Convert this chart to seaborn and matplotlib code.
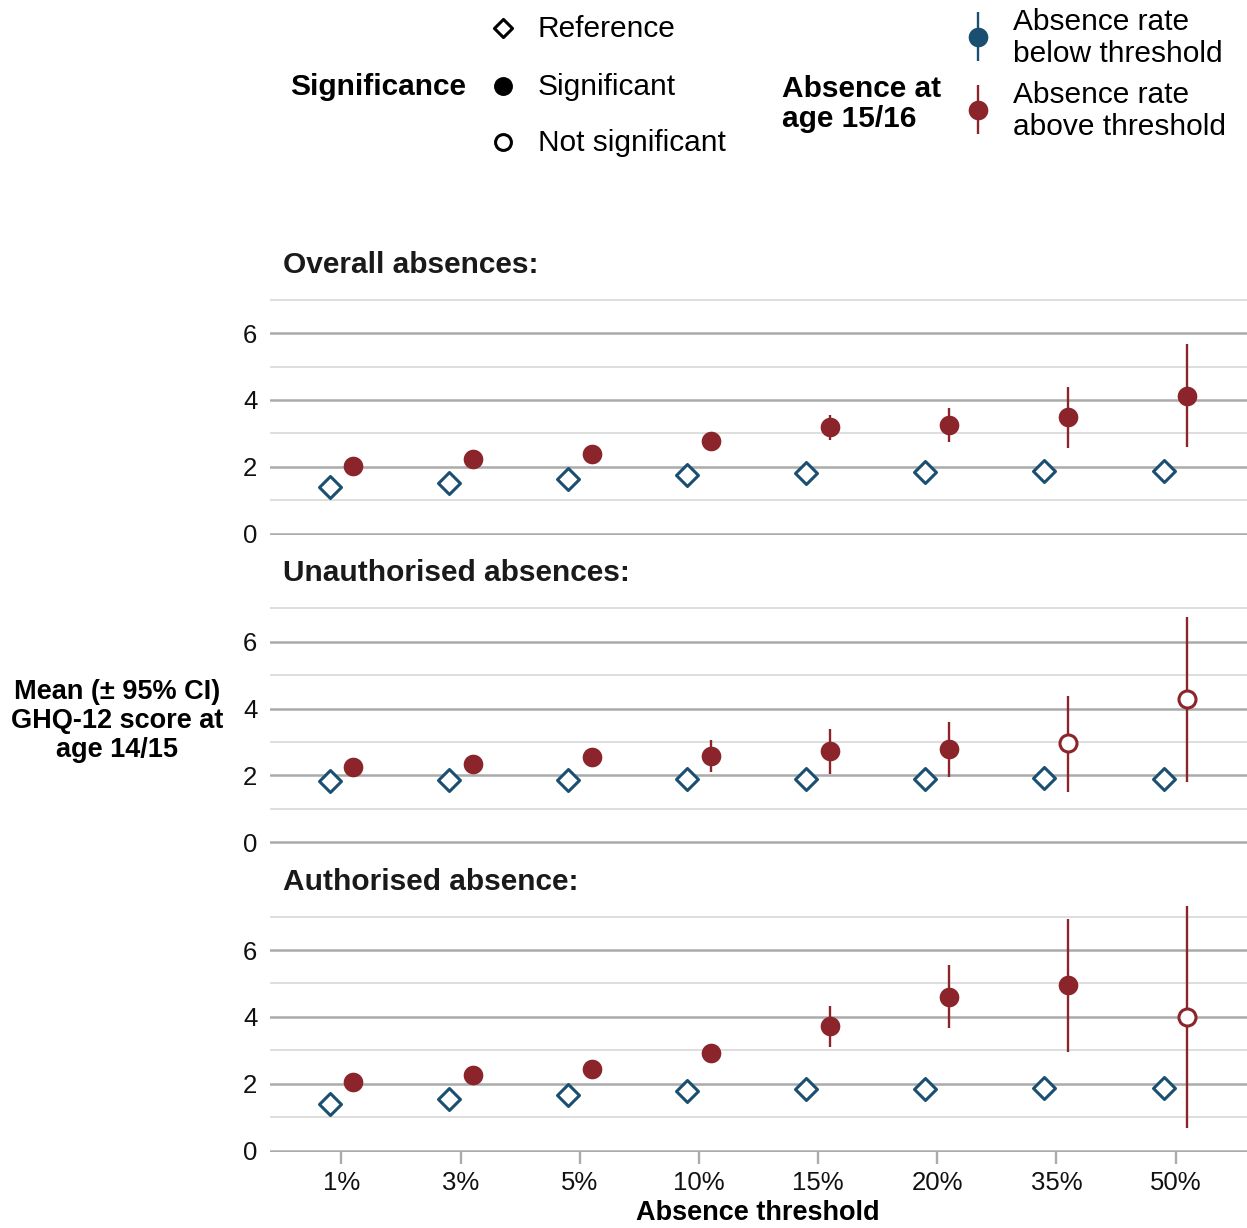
import numpy as np
import pandas as pd
import matplotlib
matplotlib.use("Agg")
import matplotlib.pyplot as plt
import seaborn as sns

# ---- data -------------------------------------------------------------
thresholds = ["1%", "3%", "5%", "10%", "15%", "20%", "35%", "50%"]
panels = ["Overall absences:", "Unauthorised absences:", "Authorised absence:"]

# mean GHQ-12 score, pupils below threshold (reference group)
below_overall = [1.40, 1.51, 1.63, 1.77, 1.82, 1.85, 1.88, 1.88]
below_unauth = [1.83, 1.85, 1.85, 1.88, 1.88, 1.89, 1.91, 1.89]
below_auth = [1.41, 1.55, 1.67, 1.79, 1.84, 1.85, 1.87, 1.87]

# mean GHQ-12 score with 95% CI, pupils above threshold
above_overall = [2.04, 2.23, 2.38, 2.76, 3.18, 3.26, 3.48, 4.12]
above_overall_lo = [1.86, 2.02, 2.14, 2.52, 2.80, 2.73, 2.56, 2.59]
above_overall_hi = [2.22, 2.44, 2.62, 3.00, 3.56, 3.77, 4.39, 5.67]
above_overall_sig = [True, True, True, True, True, True, True, True]

above_unauth = [2.25, 2.35, 2.55, 2.59, 2.73, 2.79, 2.96, 4.28]
above_unauth_lo = [2.06, 2.12, 2.30, 2.09, 2.05, 1.95, 1.51, 1.81]
above_unauth_hi = [2.44, 2.58, 2.80, 3.05, 3.40, 3.61, 4.39, 6.73]
above_unauth_sig = [True, True, True, True, True, True, False, False]

above_auth = [2.05, 2.26, 2.43, 2.93, 3.73, 4.60, 4.95, 4.00]
above_auth_lo = [1.86, 2.04, 2.18, 2.66, 3.11, 3.66, 2.94, 0.67]
above_auth_hi = [2.24, 2.48, 2.68, 3.20, 4.34, 5.54, 6.93, 7.33]
above_auth_sig = [True, True, True, True, True, True, True, False]

below = [below_overall, below_unauth, below_auth]
above = [above_overall, above_unauth, above_auth]
above_lo = [above_overall_lo, above_unauth_lo, above_auth_lo]
above_hi = [above_overall_hi, above_unauth_hi, above_auth_hi]
above_sig = [above_overall_sig, above_unauth_sig, above_auth_sig]

# ---- style ------------------------------------------------------------
sns.set_theme(style="white")
plt.rcParams["font.family"] = ["Liberation Sans", "DejaVu Sans"]
plt.rcParams["text.color"] = "black"
BLUE = "#1a4f72"
RED = "#8b252b"
MAJOR = "#ababab"
MINOR = "#dedede"
TXT = "#111111"
DODGE = 0.1

fig = plt.figure(figsize=(12.47, 12.28), dpi=100)

ymax = max(max(h) for h in above_hi)
bottoms = [0.564, 0.3127, 0.0616]
height = 0.201
left = 0.2165

for i, title in enumerate(panels):
    ax = fig.add_axes([left, bottoms[i], 1 - left, height])
    n = len(thresholds)
    idx = np.arange(n)
    ref = pd.DataFrame({"x": idx - DODGE, "y": below[i]})
    grp = pd.DataFrame({"x": idx + DODGE, "y": above[i],
                        "lo": above_lo[i], "hi": above_hi[i],
                        "sig": above_sig[i]})

    # horizontal grid
    for v in [0, 2, 4, 6]:
        ax.axhline(v, color=MAJOR, lw=1.8, zorder=0)
    for v in [1, 3, 5, 7]:
        ax.axhline(v, color=MINOR, lw=1.4, zorder=0)

    # confidence intervals
    ax.vlines(grp["x"], grp["lo"], grp["hi"], color=RED, lw=1.7, zorder=2)

    # reference group
    sns.scatterplot(data=ref, x="x", y="y", marker="D", s=125, color="white",
                    edgecolor=BLUE, linewidth=2.2, ax=ax, zorder=3, legend=False)
    # above threshold: significant (filled) and not significant (open)
    sig = grp[grp["sig"]]
    ns = grp[~grp["sig"]]
    sns.scatterplot(data=sig, x="x", y="y", marker="o", s=200, color=RED,
                    edgecolor=RED, linewidth=0, ax=ax, zorder=3, legend=False)
    if len(ns):
        sns.scatterplot(data=ns, x="x", y="y", marker="o", s=150, color="white",
                        edgecolor=RED, linewidth=2.2, ax=ax, zorder=3, legend=False)

    ax.set_xlim(-0.6, n - 0.4)
    ax.set_ylim(-0.05, ymax)
    ax.set_yticks([0, 2, 4, 6])
    ax.set_yticklabels(["0", "2", "4", "6"])
    ax.tick_params(axis="y", length=0, pad=9, labelsize=18.5, labelcolor=TXT)
    ax.set_xlabel("")
    ax.set_ylabel("")
    for s in ax.spines.values():
        s.set_visible(False)
    ax.grid(False)
    ax.patch.set_alpha(0)

    ax.set_xticks(idx)
    if i == len(panels) - 1:
        ax.set_xticklabels(thresholds)
        ax.tick_params(axis="x", length=8.5, width=1.7, color=MAJOR, pad=5,
                       labelsize=18.5, labelcolor=TXT, direction="out",
                       bottom=True)
    else:
        ax.set_xticklabels([])
        ax.tick_params(axis="x", length=0)

    # panel heading
    fig.text(283 / 1247, 1 - [265, 573, 882][i] / 1228, title,
             fontsize=21.5, fontweight="bold", color="#1a1a1a",
             ha="left", va="center")

# axis titles
fig.text(117 / 1247, 1 - 721 / 1228, "Mean (± 95% CI)\nGHQ-12 score at\nage 14/15",
         fontsize=19.5, fontweight="bold", ha="center", va="center",
         multialignment="center", linespacing=1.14, color="black")
fig.text(758 / 1247, 1 - 1213 / 1228, "Absence threshold",
         fontsize=19.5, fontweight="bold", ha="center", va="center", color="black")

# ---- legends (pixel-space overlay) -------------------------------------
lg = fig.add_axes([0, 0, 1, 1])
lg.set_xlim(0, 1247)
lg.set_ylim(1228, 0)
lg.axis("off")
lg.patch.set_alpha(0)

lg.text(290, 87, "Significance", fontsize=21.5, fontweight="bold",
        ha="left", va="center", color="black")
lg.scatter([503], [28], marker="D", s=85, facecolor="white", edgecolor="black",
           linewidth=2.2)
lg.scatter([503], [86], marker="o", s=185, facecolor="black", edgecolor="black",
           linewidth=0)
lg.scatter([503], [142], marker="o", s=130, facecolor="white", edgecolor="black",
           linewidth=2.2)
for yy, lab in zip([29, 87, 143], ["Reference", "Significant", "Not significant"]):
    lg.text(538, yy, lab, fontsize=21.5, ha="left", va="center", color="black")

lg.text(782, 104, "Absence at\nage 15/16", fontsize=21.5, fontweight="bold",
        ha="left", va="center", linespacing=1.12, color="black")
for yc, col, lab in [(37, BLUE, "Absence rate\nbelow threshold"),
                     (110, RED, "Absence rate\nabove threshold")]:
    lg.vlines(978, yc - 25, yc + 24, color=col, lw=1.7)
    lg.scatter([978], [yc], marker="o", s=200, color=col, linewidth=0, zorder=3)
    lg.text(1013, yc + 1, lab, fontsize=21.5, ha="left", va="center",
            linespacing=1.14, color="black")

fig.savefig("out.png", dpi=100)
